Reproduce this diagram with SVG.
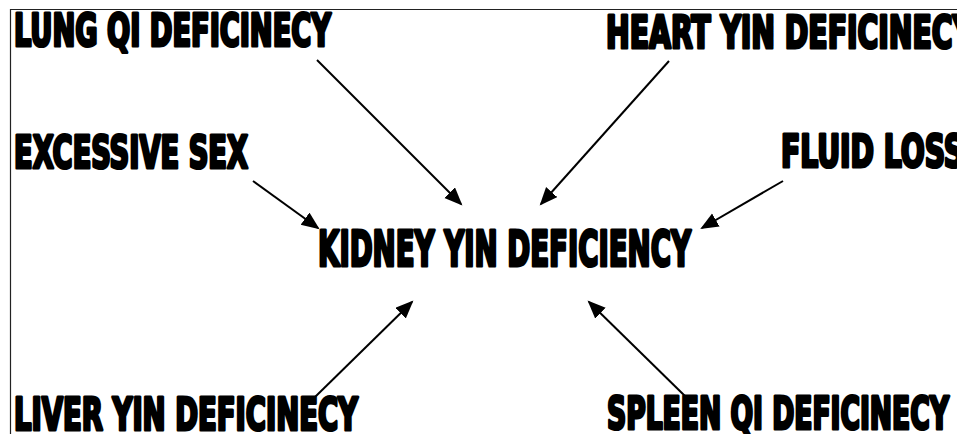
<svg xmlns="http://www.w3.org/2000/svg" width="957" height="434" viewBox="0 0 957 434">
<defs>
<style>
.t{font-family:"DejaVu Sans Condensed","Liberation Sans Narrow","Arial Narrow",sans-serif;font-weight:bold;font-size:44px;fill:#000;stroke:#000;stroke-width:3.2px;stroke-linejoin:round}
.big{font-size:49px}
.c{stroke:#000;stroke-width:2;fill:none}
</style>
<marker id="ah" markerUnits="userSpaceOnUse" markerWidth="20" markerHeight="16" refX="16" refY="7.5" orient="auto">
<path d="M0,0 L18,7.5 L0,15 z" fill="#000"/>
</marker>
</defs>
<rect width="957" height="434" fill="#fff"/>
<path d="M10.5,434 V9.5 H957" fill="none" stroke="#222" stroke-width="1.2"/>
<g id="connectors">
<line class="c" x1="317" y1="60" x2="461" y2="204" marker-end="url(#ah)"/>
<line class="c" x1="669" y1="61" x2="541" y2="204" marker-end="url(#ah)"/>
<line class="c" x1="253" y1="181" x2="318" y2="228" marker-end="url(#ah)"/>
<line class="c" x1="783" y1="181" x2="702" y2="228" marker-end="url(#ah)"/>
<line class="c" x1="315" y1="397" x2="412" y2="302" marker-end="url(#ah)"/>
<line class="c" x1="686" y1="397" x2="589" y2="302" marker-end="url(#ah)"/>
</g>
<g id="lung"><text class="t" x="14" y="46" textLength="317" lengthAdjust="spacingAndGlyphs">LUNG QI DEFICINECY</text></g>
<g id="heart"><text class="t" x="606" y="48" textLength="367" lengthAdjust="spacingAndGlyphs">HEART YIN DEFICINECY</text></g>
<g id="excessive"><text class="t" x="14" y="168" textLength="234" lengthAdjust="spacingAndGlyphs">EXCESSIVE SEX</text></g>
<g id="fluid"><text class="t" x="781" y="167" textLength="183" lengthAdjust="spacingAndGlyphs">FLUID LOSS</text></g>
<g id="kidney"><text class="t big" x="318" y="266" textLength="373" lengthAdjust="spacingAndGlyphs">KIDNEY YIN DEFICIENCY</text></g>
<g id="liver"><text class="t" x="14" y="430" textLength="344" lengthAdjust="spacingAndGlyphs">LIVER YIN DEFICINECY</text></g>
<g id="spleen"><text class="t" x="607" y="429" textLength="342" lengthAdjust="spacingAndGlyphs">SPLEEN QI DEFICINECY</text></g>
</svg>
